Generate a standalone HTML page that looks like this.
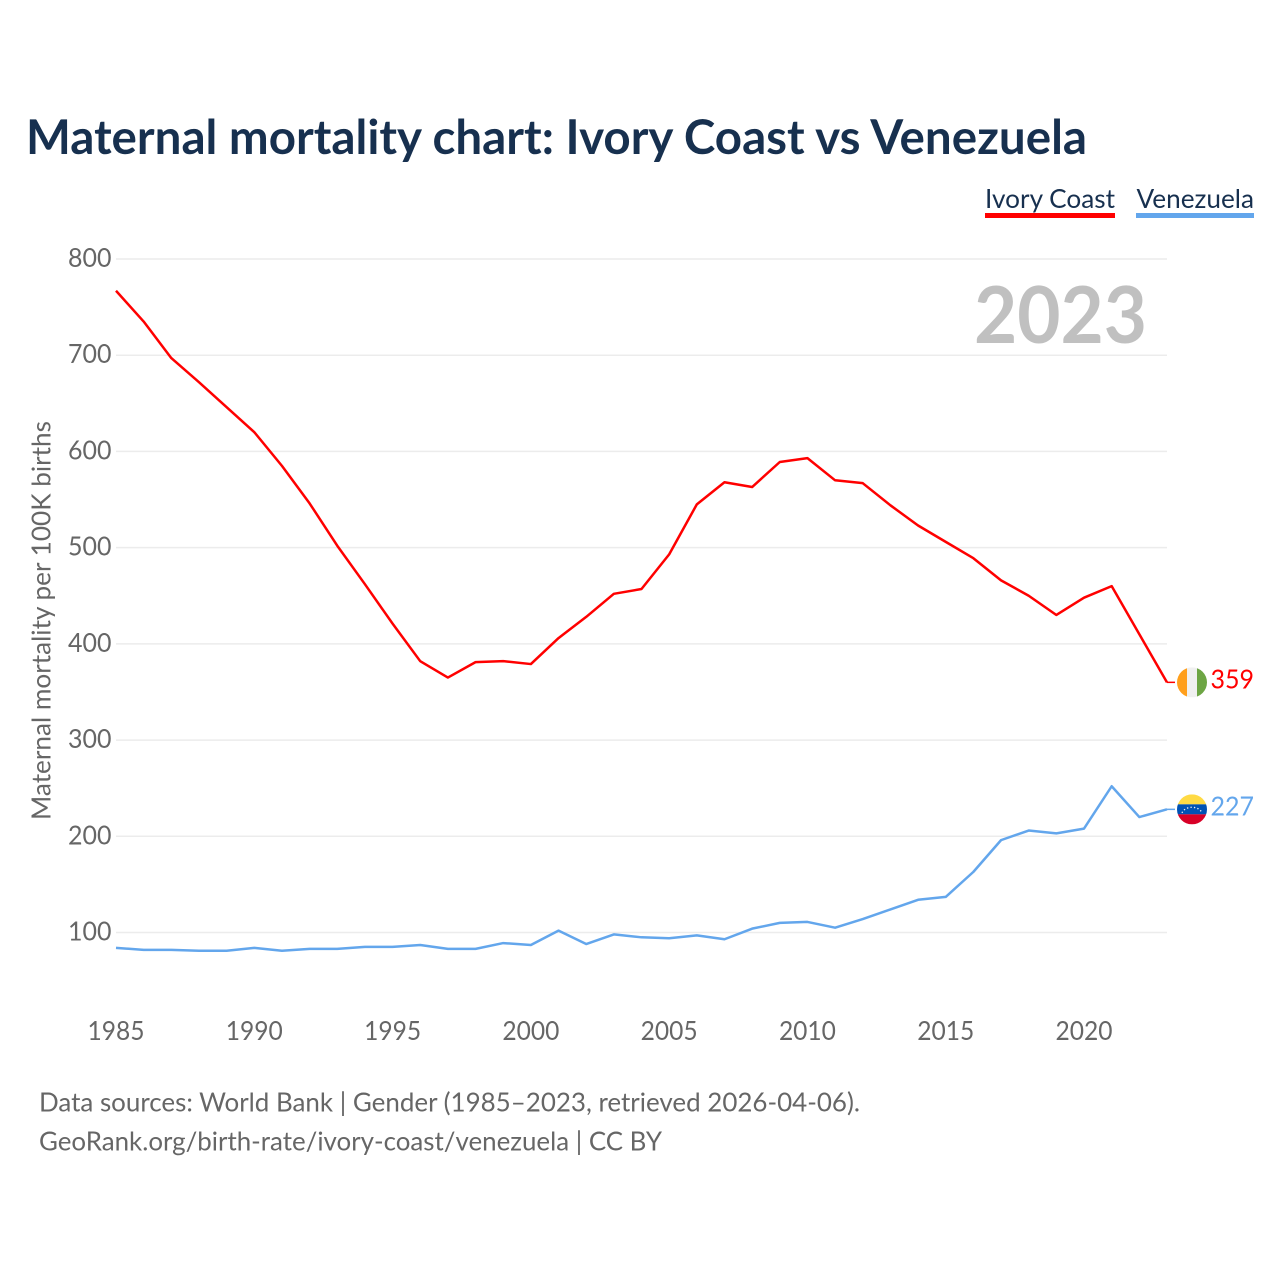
<!DOCTYPE html>
<html lang="en">
<head>
<meta charset="utf-8">
<title>Maternal mortality chart: Ivory Coast vs Venezuela</title>
<style>
html,body{margin:0;padding:0;background:#fff;width:1280px;height:1280px;overflow:hidden}
svg{display:block}
text{font-family:"Lato","Carlito","Liberation Sans",sans-serif}
</style>
</head>
<body>
<svg id="chart" xmlns="http://www.w3.org/2000/svg" width="1280" height="1280" viewBox="0 0 1280 1280">
  <defs>
    <clipPath id="flag-clip"><circle cx="0" cy="0" r="15"></circle></clipPath>
  </defs>
  <rect x="0" y="0" width="1280" height="1280" fill="#fff"></rect>
  <text x="26" y="154" font-size="48" font-weight="700" fill="#17304f" textLength="1061" lengthAdjust="spacingAndGlyphs">Maternal mortality chart: Ivory Coast vs Venezuela</text>

  <g>
    <g>
      <text x="985" y="208" font-size="26" fill="#17304f" textLength="130" lengthAdjust="spacingAndGlyphs">Ivory Coast</text>
      <rect x="985" y="213" width="130" height="5" fill="#ff0000"></rect>
    </g>
    <g>
      <text x="1136.5" y="208" font-size="26" fill="#17304f" textLength="117.5" lengthAdjust="spacingAndGlyphs">Venezuela</text>
      <rect x="1136" y="213" width="118" height="5" fill="#63a6ec"></rect>
    </g>
  </g>

  <g id="grid"></g>
  <g id="y-ticks"></g>
  <g id="x-ticks"></g>

  <text transform="translate(50.5 820) rotate(-90)" x="0" y="0" font-size="26" fill="#666" textLength="399" lengthAdjust="spacingAndGlyphs">Maternal mortality per 100K births</text>

  <text x="974" y="343" font-size="79" font-weight="700" fill="#c0c0c0" textLength="173" lengthAdjust="spacingAndGlyphs">2023</text>

  <g id="series"></g>

  <g id="flag-ivory-coast">
    <g clip-path="url(#flag-clip)">
      <rect x="-15" y="-15" width="10" height="30" fill="#ff9f1c"></rect>
      <rect x="-5" y="-15" width="10" height="30" fill="#f0f0f0"></rect>
      <rect x="5" y="-15" width="10" height="30" fill="#6da544"></rect>
    </g>
  </g>
  <g id="flag-venezuela">
    <g clip-path="url(#flag-clip)">
      <rect x="-15" y="-15" width="30" height="10" fill="#ffda44"></rect>
      <rect x="-15" y="-5" width="30" height="10" fill="#0052b4"></rect>
      <rect x="-15" y="5" width="30" height="10" fill="#d80027"></rect>
      <path d="M-10 3.5 A10.5 8 0 0 1 10 3.5" fill="none" stroke="#f0f0f0" stroke-width="1.3" stroke-dasharray="1.3 2.2"></path>
    </g>
  </g>

  <g id="end-labels"></g>

  <g>
    <text x="39" y="1111.5" font-size="26" fill="#666" textLength="821" lengthAdjust="spacingAndGlyphs">Data sources: World Bank | Gender (1985–2023, retrieved 2026-04-06).</text>
    <text x="39" y="1150.5" font-size="26" fill="#666" textLength="623" lengthAdjust="spacingAndGlyphs">GeoRank.org/birth-rate/ivory-coast/venezuela | CC BY</text>
  </g>
</svg>

<script>
const years = [1985,1986,1987,1988,1989,1990,1991,1992,1993,1994,1995,1996,1997,1998,1999,2000,2001,2002,2003,2004,2005,2006,2007,2008,2009,2010,2011,2012,2013,2014,2015,2016,2017,2018,2019,2020,2021,2022,2023];
const ivoryCoast = [767,735,697,672,646,620,585,546,502,462,421,382,365,381,382,379,406,428,452,457,493,545,568,563,589,593,570,567,544,523,506,489,466,450,430,448,460,410,360];
const venezuela = [84,82,82,81,81,84,81,83,83,85,85,87,83,83,89,87,102,88,98,95,94,97,93,104,110,111,105,114,124,134,137,163,196,206,203,208,252,220,228];
const yTickValues = [100,200,300,400,500,600,700,800];
const xTickValues = [1985,1990,1995,2000,2005,2010,2015,2020];
const ivoryCoastEndLabel = "359";
const venezuelaEndLabel = "227";

const SVG_NS = "http://www.w3.org/2000/svg";
const xScale = function (year) { return 116 + (year - 1985) * (1167 - 116) / (2023 - 1985); };
const yScale = function (value) { return 932.5 - (value - 100) * (932.5 - 259) / 700; };

const gridGroup = document.getElementById("grid");
const yTicksGroup = document.getElementById("y-ticks");
const xTicksGroup = document.getElementById("x-ticks");
const seriesGroup = document.getElementById("series");
const endLabelsGroup = document.getElementById("end-labels");

function make(tag, attrs, parent, content) {
  const el = document.createElementNS(SVG_NS, tag);
  Object.keys(attrs).forEach(function (k) { el.setAttribute(k, attrs[k]); });
  if (content !== undefined) { el.textContent = content; }
  parent.appendChild(el);
  return el;
}

yTickValues.forEach(function (v) {
  const gridline = make("line", { x1: 116, x2: 1167, y1: yScale(v), y2: yScale(v), stroke: "#ececec", "stroke-width": 1.5 }, gridGroup);
  
  
  const tickLabel = make("text", { x: 68, y: yScale(v) + 8, "font-size": 26, fill: "#666", textLength: 43.5, lengthAdjust: "spacingAndGlyphs" }, yTicksGroup, String(v));
  
  
});

xTickValues.forEach(function (year) {
  const tickLabel = make("text", { x: xScale(year) - 28.5, y: 1040, "font-size": 26, fill: "#666", textLength: 57, lengthAdjust: "spacingAndGlyphs" }, xTicksGroup, String(year));
  
  
});

function linePoints(values) {
  return values.map(function (v, i) { return xScale(years[i]).toFixed(2) + "," + yScale(v).toFixed(2); }).join(" ");
}

const ivoryLine = make("polyline", { points: linePoints(ivoryCoast), fill: "none", stroke: "#ff0000", "stroke-width": 2.5, "stroke-linejoin": "round" }, seriesGroup);



const venezuelaLine = make("polyline", { points: linePoints(venezuela), fill: "none", stroke: "#63a6ec", "stroke-width": 2.5, "stroke-linejoin": "round" }, seriesGroup);



const ivoryEndY = yScale(ivoryCoast[ivoryCoast.length - 1]);
const venezuelaEndY = yScale(venezuela[venezuela.length - 1]);

const ivoryConnector = make("line", { x1: 1167, x2: 1175, y1: ivoryEndY, y2: ivoryEndY, stroke: "#ff0000", "stroke-width": 1.5 }, seriesGroup);



const venezuelaConnector = make("line", { x1: 1167, x2: 1175, y1: venezuelaEndY, y2: venezuelaEndY, stroke: "#63a6ec", "stroke-width": 1.5 }, seriesGroup);



document.getElementById("flag-ivory-coast").setAttribute("transform", "translate(1192 " + ivoryEndY + ")");
document.getElementById("flag-venezuela").setAttribute("transform", "translate(1192 " + venezuelaEndY + ")");

const ivoryEndLabel = make("text", { x: 1210.5, y: ivoryEndY + 6, "font-size": 26, fill: "#ff0000", textLength: 43.5, lengthAdjust: "spacingAndGlyphs" }, endLabelsGroup, ivoryCoastEndLabel);



const venezuelaEndLabelEl = make("text", { x: 1210.5, y: venezuelaEndY + 6, "font-size": 26, fill: "#63a6ec", textLength: 43.5, lengthAdjust: "spacingAndGlyphs" }, endLabelsGroup, venezuelaEndLabel);


</script>
</body>
</html>
